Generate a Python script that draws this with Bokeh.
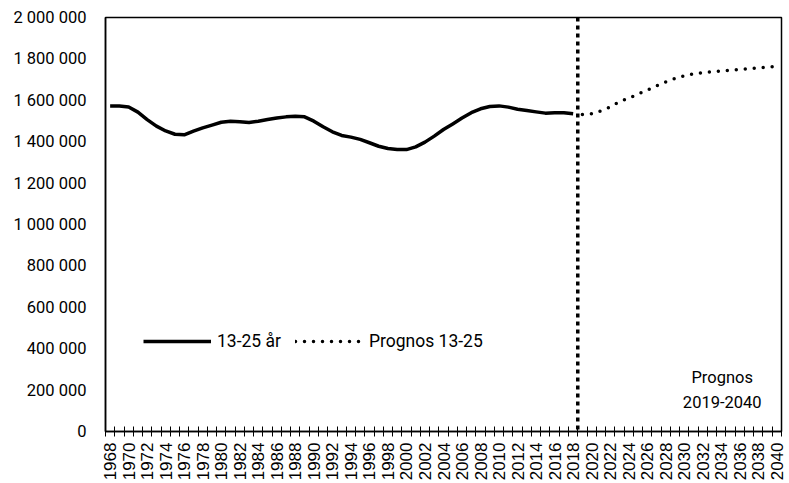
import math
from bokeh.plotting import figure
from bokeh.models import Range1d, FixedTicker, Span, Legend, LegendItem
from bokeh.core.properties import value
from bokeh.embed import file_html
from bokeh.resources import INLINE

# ---- data ----
years_hist = list(range(1968, 2019))
pop_13_25 = [
    1572000, 1572000, 1568000, 1543000, 1507000, 1475000, 1452000, 1436000, 1433000, 1451000,
    1467000, 1480000, 1494000, 1499000, 1496000, 1493000, 1499000, 1507000, 1514000, 1520000,
    1523000, 1520000, 1499000, 1472000, 1448000, 1430000, 1422000, 1411000, 1395000, 1378000,
    1367000, 1362000, 1362000, 1375000, 1398000, 1427000, 1459000, 1486000, 1514000, 1540000,
    1559000, 1570000, 1573000, 1567000, 1557000, 1551000, 1544000, 1538000, 1540000, 1540000,
    1535000,
]
years_prog = list(range(2019, 2041))
prognos_13_25 = [
    1532000, 1535000, 1549000, 1567000, 1593000, 1610000, 1630000, 1649000, 1670000, 1689000,
    1705000, 1718000, 1728000, 1734000, 1738000, 1742000, 1745000, 1749000, 1752000, 1757000,
    1760000, 1765000,
]
all_years = list(range(1968, 2041))
x_label_years = list(range(1968, 2041, 2))
y_ticks = [0, 200000, 400000, 600000, 800000, 1000000, 1200000, 1400000, 1600000, 1800000, 2000000]
series_labels = ["13-25 år", "Prognos 13-25"]
note_lines = ["Prognos", "2019-2040"]

FONT = "Roboto"

p = figure(
    width=789, height=483,
    output_backend="svg", toolbar_location=None,
    x_range=Range1d(all_years[0] - 0.5, all_years[-1] + 0.5),
    y_range=Range1d(0, 2000000),
    min_border_left=105, min_border_right=8, min_border_top=17, min_border_bottom=51,
)
p.xgrid.visible = False
p.ygrid.visible = False
p.outline_line_color = "black"
p.outline_line_width = 1.5
p.outline_line_alpha = 1.0
p.background_fill_color = "white"
p.border_fill_color = "white"

# x axis: labels at every second year, tick marks between years
p.xaxis.ticker = FixedTicker(ticks=x_label_years, minor_ticks=[y - 0.5 for y in all_years + [all_years[-1] + 1]])
p.xaxis.major_tick_line_color = None
p.xaxis.major_tick_in = 0
p.xaxis.major_tick_out = 0
p.xaxis.minor_tick_line_color = "black"
p.xaxis.minor_tick_line_width = 1
p.xaxis.minor_tick_in = 5
p.xaxis.minor_tick_out = 5
p.xaxis.axis_line_color = "black"
p.xaxis.axis_line_width = 1.5
p.xaxis.major_label_orientation = math.pi / 2
p.xaxis.major_label_standoff = 6
p.xaxis.major_label_text_font = "Liberation Sans"
p.xaxis.major_label_text_font_size = "17px"
p.xaxis.major_label_text_color = "black"

# y axis
p.yaxis.ticker = FixedTicker(ticks=y_ticks)
p.yaxis.major_label_overrides = {t: f"{t:,}".replace(",", " ") for t in y_ticks}
p.yaxis.major_tick_line_color = None
p.yaxis.major_tick_in = 0
p.yaxis.major_tick_out = 0
p.yaxis.minor_tick_line_color = None
p.yaxis.axis_line_color = "black"
p.yaxis.axis_line_width = 1.5
p.yaxis.major_label_standoff = 19
p.yaxis.major_label_text_font = FONT
p.yaxis.major_label_text_font_size = "16.5px"
p.yaxis.major_label_text_color = "black"

# series
r_hist = p.line(years_hist, pop_13_25, line_color="black", line_width=3.5, line_join="round")
r_prog = p.line(years_prog, prognos_13_25, line_color="black", line_width=3.5,
                line_dash="0 9", line_cap="round")

# vertical divider
p.add_layout(Span(location=2018.5, dimension="height", line_color="black",
                  line_width=3.5, line_dash="4 4"))

# note
p.text(x=[2034.1, 2034.1], y=[260000, 144000], text=note_lines,
       text_font=value(FONT), text_font_size="16.5px", text_color="black",
       text_align="center", text_baseline="middle")

legend = Legend(
    items=[LegendItem(label=series_labels[0], renderers=[r_hist]),
           LegendItem(label=series_labels[1], renderers=[r_prog])],
    orientation="horizontal", location=(38, 80),
    border_line_color=None, background_fill_alpha=0,
    padding=0, margin=0, spacing=14, label_standoff=6,
    glyph_width=68, glyph_height=20,
    label_text_font=FONT, label_text_font_size="17.5px", label_text_color="black",
)
p.add_layout(legend)

open("out.html", "w").write(file_html(p, INLINE))
